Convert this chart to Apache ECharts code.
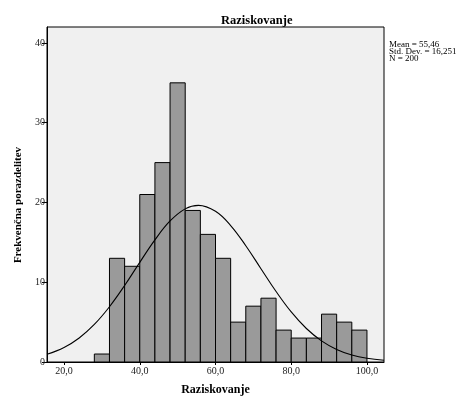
<!DOCTYPE html>
<html>
<head>
<meta charset="utf-8">
<script src="https://cdn.jsdelivr.net/npm/echarts@6/dist/echarts.min.js"></script>
<style>html,body{margin:0;padding:0;background:#fff}#c{width:459px;height:401px}</style>
</head>
<body>
<div id="c"></div>
<script>
// Histogram bins (lower edge, width 4) and frequencies
const binStarts = [28, 32, 36, 40, 44, 48, 52, 56, 60, 64, 68, 72, 76, 80, 84, 88, 92, 96];
const binWidth = 4;
const counts = [1, 13, 12, 21, 25, 35, 19, 16, 13, 5, 7, 8, 4, 3, 3, 6, 5, 4];
// Normal curve points
const curveX = [15.5, 20, 24, 28, 32, 36, 40, 44, 48, 52, 55.5, 60, 64, 68, 72, 76, 80, 84, 88, 92, 96, 100, 104.5];
const curveY = [0.96, 1.82, 3.01, 4.71, 6.93, 9.59, 12.49, 15.31, 17.68, 19.2, 19.64, 18.89, 17.11, 14.58, 11.7, 8.84, 6.28, 4.2, 2.65, 1.57, 0.87, 0.46, 0.21];
const xTicks = [20, 40, 60, 80, 100];
const yTicks = [0, 10, 20, 30, 40];
const statsLines = ['Mean = 55,46', 'Std. Dev. = 16,251', 'N = 200'];
const titleText = 'Raziskovanje';
const xName = 'Raziskovanje';
const yName = 'Frekvenčna porazdelitev';

const serif = '"Liberation Serif", "DejaVu Serif", serif';
const chart = echarts.init(document.getElementById('c'), null, {renderer: 'canvas'});
const barData = binStarts.map((s, i) => [s, s + binWidth, counts[i]]);
const lineData = curveX.map((x, i) => [x, curveY[i]]);

chart.setOption({
  animation: false,
  backgroundColor: '#ffffff',
  title: {
    text: titleText, left: 216, top: 9,
    textStyle: {fontFamily: serif, fontSize: 12.5, fontWeight: 'bold', color: '#000'}
  },
  graphic: [{
    type: 'text', x: 389, y: 41,
    style: {text: statsLines.join('\n'), font: '9px ' + serif, lineHeight: 7, fill: '#000'}
  }, {
    type: 'text', x: 18, y: 205, rotation: Math.PI / 2,
    style: {text: yName, font: 'bold 11px ' + serif, fill: '#000', align: 'center', verticalAlign: 'middle'}
  }],
  grid: {
    left: 47, right: 75, top: 27, bottom: 34,
    show: true, backgroundColor: '#f0f0f0', borderColor: '#000', borderWidth: 1
  },
  xAxis: {
    type: 'value', min: 15.5, max: 104.5,
    name: xName, nameLocation: 'middle', nameGap: 22,
    nameTextStyle: {fontFamily: serif, fontSize: 12, fontWeight: 'bold', color: '#000'},
    splitLine: {show: false},
    axisLine: {show: true, lineStyle: {color: '#000', width: 1}},
    axisTick: {show: true, length: 3, customValues: xTicks, lineStyle: {color: '#000'}},
    axisLabel: {
      customValues: xTicks, margin: 4,
      fontFamily: serif, fontSize: 10, color: '#222',
      formatter: v => v.toFixed(1).replace('.', ',')
    }
  },
  yAxis: {
    type: 'value', min: 0, max: 42,
    splitLine: {show: false},
    axisLine: {show: true, lineStyle: {color: '#000', width: 1}},
    axisTick: {show: true, length: 5, customValues: yTicks, lineStyle: {color: '#000'}},
    axisLabel: {customValues: yTicks, margin: 2, fontFamily: serif, fontSize: 10, color: '#222'}
  },
  series: [{
    type: 'custom',
    data: barData,
    encode: {x: [0, 1], y: 2},
    renderItem: function (params, api) {
      const p0 = api.coord([api.value(0), api.value(2)]);
      const p1 = api.coord([api.value(1), 0]);
      return {
        type: 'rect',
        shape: {x: p0[0], y: p0[1], width: p1[0] - p0[0], height: p1[1] - p0[1]},
        style: {fill: '#9a9a9a', stroke: '#000', lineWidth: 1}
      };
    },
    z: 2
  }, {
    type: 'line', data: lineData, smooth: 0.4, showSymbol: false,
    lineStyle: {color: '#000', width: 1.1}, z: 3
  }]
});
</script>
</body>
</html>
